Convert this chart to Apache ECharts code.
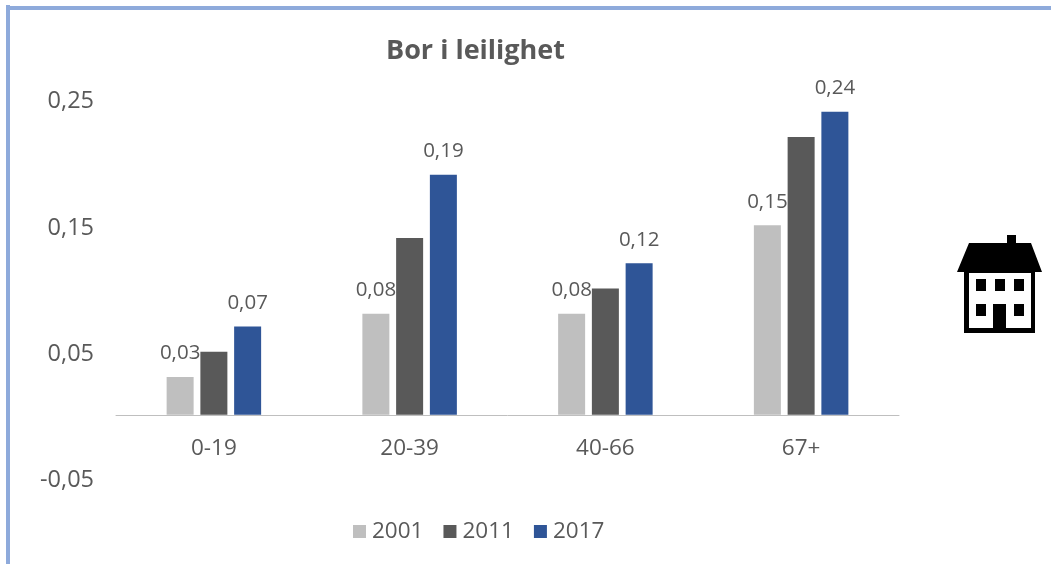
<!DOCTYPE html>
<html><head><meta charset="utf-8"><style>html,body{margin:0;padding:0;background:#fff}#c{width:1051px;height:564px}</style>
<script src="https://cdn.jsdelivr.net/npm/echarts@6/dist/echarts.min.js"></script></head><body><div id="c"></div>
<script>
const categories=['0-19','20-39','40-66','67+'];
const seriesNames=['2001','2011','2017'];
const v2001=[0.03,0.08,0.08,0.15];
const v2011=[0.05,0.14,0.10,0.22];
const v2017=[0.07,0.19,0.12,0.24];
const font='"Open Sans","Liberation Sans",sans-serif';
const fmt=v=>v.toFixed(2).replace('.',',');
const chart=echarts.init(document.getElementById('c'),null,{renderer:'canvas'});
const lab={show:true,position:'top',color:'#595959',fontFamily:font,fontSize:20.5,formatter:p=>fmt(p.value),distance:13};
chart.setOption({
animation:false,
title:{text:'Bor i leilighet',left:470.5,top:33,textAlign:'center',textStyle:{fontFamily:font,fontSize:27,fontWeight:'bold',color:'#595959'}},
legend:{left:348,top:515,itemWidth:13,itemHeight:13,itemGap:20,icon:'rect',textStyle:{fontFamily:font,fontSize:22.5,color:'#595959',padding:[0,0,0,1]},data:seriesNames},
grid:{left:116,right:152,top:99,bottom:86},
xAxis:{type:'category',data:categories,axisTick:{show:false},axisLine:{onZero:true,lineStyle:{color:'#bfbfbf',width:1}},axisLabel:{color:'#595959',fontFamily:font,fontSize:22.5,margin:-41},z:5},
yAxis:{type:'value',min:-0.05,max:0.25,interval:0.1,splitLine:{show:false},axisLine:{show:false},axisTick:{show:false},axisLabel:{margin:22,formatter:v=>'{a|'+fmt(v)+'}',rich:{a:{color:'#595959',fontFamily:font,fontSize:23.5,padding:[5,0,0,0]}}}},
series:[
{name:'2001',type:'bar',data:v2001,barWidth:27,barGap:'25%',itemStyle:{color:'#bfbfbf'},label:lab},
{name:'2011',type:'bar',data:v2011,barWidth:27,itemStyle:{color:'#595959'}},
{name:'2017',type:'bar',data:v2017,barWidth:27,itemStyle:{color:'#2f5597'},label:lab}
],
graphic:[
{type:'rect',shape:{x:10,y:6,width:1041,height:4},style:{fill:'#8eaadb'}},
{type:'rect',shape:{x:6,y:5,width:4,height:559},style:{fill:'#8eaadb'}},
{type:'polygon',shape:{points:[[957,272],[969,243],[1007,243],[1007,235],[1016,235],[1016,243],[1031,243],[1042,272]]},style:{fill:'#000'}},
{type:'rect',shape:{x:964,y:272,width:71,height:61},style:{fill:'#000'}},
{type:'rect',shape:{x:969,y:273,width:62,height:55},style:{fill:'#fff'}},
...[[976,279],[995,279],[1014,279],[976,304],[1014,304]].map(p=>({type:'rect',shape:{x:p[0],y:p[1],width:10,height:12},style:{fill:'#000'}})),
{type:'rect',shape:{x:993,y:304,width:13,height:25},style:{fill:'#000'}}
]
});
</script></body></html>
